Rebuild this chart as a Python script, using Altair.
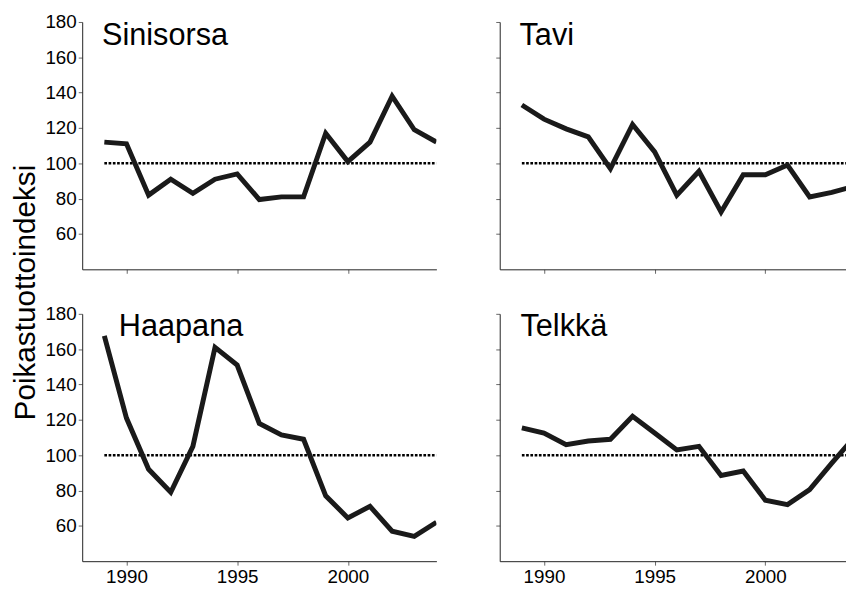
import altair as alt
import pandas as pd

# ---- data ----
years = list(range(1989, 2005))
sinisorsa = [112, 111, 82, 91, 83, 91, 94, 79.5, 81, 81, 117, 101, 112, 138, 119, 112]
tavi = [133, 125, 119.5, 115, 97, 122, 106.5, 82, 95.5, 72.5, 93.5, 93.5, 99, 81, 83.5, 87]
haapana = [167.5, 121, 92, 79, 105, 161, 151, 118, 111.5, 109, 77, 64.5, 71, 57, 54, 62]
telkka = [115.5, 112.5, 106, 108, 109, 122, 112.5, 103, 105, 88.5, 91, 74.5, 72, 80.5, 95.5, 110]

species = ["Sinisorsa", "Tavi", "Haapana", "Telkkä"]
y_ticks = [60, 80, 100, 120, 140, 160, 180]
x_ticks = [1990, 1995, 2000]
ref_level = 100
ref_years = [1989, 2004]
y_title = "Poikastuottoindeksi"

FONT = "Liberation Sans"
INK = "#1a1a1a"


def panel(values, name, label_dx, label_dy, x_end, width, x_labels, y_labels, with_title):
    df = pd.DataFrame({"year": years, "value": values})
    ref_df = pd.DataFrame({"x1": [ref_years[0]], "x2": [ref_years[1]], "level": [ref_level]})
    name_df = pd.DataFrame({"name": [name]})

    x_axis = alt.Axis(values=x_ticks, labels=x_labels, title=None, grid=False, format="d",
                      tickSize=4, labelFontSize=19, labelPadding=3, labelFont=FONT,
                      labelColor="black", domainColor="#222222", tickColor="#666666")
    y_kwargs = dict(values=y_ticks, labels=y_labels, grid=False, tickSize=4,
                    labelFontSize=19, labelPadding=2, labelFont=FONT, labelColor="black",
                    domainColor="#222222", tickColor="#666666")
    if with_title:
        y_kwargs.update(title=y_title, titleX=-48, titleY=273, titleAngle=270,
                        titleAlign="center", titleBaseline="alphabetic", titleFontSize=30,
                        titleFont=FONT, titleFontWeight="normal", titleColor="black")
    else:
        y_kwargs.update(title=None)
    y_axis = alt.Axis(**y_kwargs)

    xs = alt.Scale(domain=[1988, x_end], nice=False, zero=False)
    ys = alt.Scale(domain=[40, 180], nice=False, zero=False)

    rule = alt.Chart(ref_df).mark_rule(
        color="black", strokeWidth=2.6, strokeDash=[2.7, 1.6], clip=True
    ).encode(
        x=alt.X("x1:Q", scale=xs, axis=x_axis),
        x2="x2:Q",
        y=alt.Y("level:Q", scale=ys, axis=y_axis),
    )
    line = alt.Chart(df).mark_line(
        color=INK, strokeWidth=5, strokeJoin="miter", clip=True
    ).encode(
        x=alt.X("year:Q", scale=xs, axis=x_axis),
        y=alt.Y("value:Q", scale=ys, axis=y_axis),
    )
    label = alt.Chart(name_df).mark_text(
        align="left", baseline="alphabetic", fontSize=31, font=FONT, color="black"
    ).encode(
        x=alt.value(label_dx), y=alt.value(label_dy), text="name:N"
    )
    return alt.layer(rule, line, label).properties(width=width, height=250)


LW, RW = 358, 350
r_end = 1988 + RW * 16 / LW

tl = panel(sinisorsa, species[0], 20, 23, 2004, LW, False, True, True)
tr = panel(tavi, species[1], 20, 23, r_end, RW, False, False, False)
bl = panel(haapana, species[2], 37, 22, 2004, LW, True, True, False)
br = panel(telkka, species[3], 21, 22, r_end, RW, True, False, False)

chart = alt.concat(
    tl, tr, bl, br, columns=2, spacing={"row": 45, "column": 64}, bounds="flush"
).properties(
    padding={"left": 2, "top": 2, "right": 0, "bottom": 0},
    background="white",
).configure_view(strokeWidth=0, stroke="transparent")

chart.save("out.html", embed_options={"renderer": "svg", "actions": False})
